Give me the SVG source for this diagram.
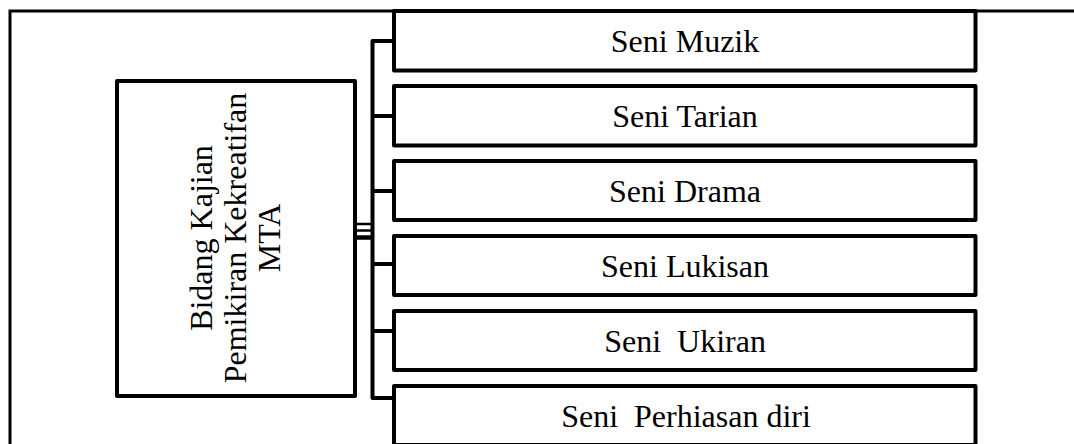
<svg xmlns="http://www.w3.org/2000/svg" width="1074" height="444" viewBox="0 0 1074 444">
<style>
.box{fill:#fff;stroke:#000;stroke-width:4;stroke-linejoin:round}
.frame{fill:none;stroke:#000;stroke-width:3}
.con{fill:none;stroke:#000;stroke-width:4;stroke-linejoin:round}
.t{font-family:"Liberation Serif","Times New Roman",serif;font-size:32px;fill:#000;text-anchor:middle}
</style>
<rect width="1074" height="444" fill="#fff"/>
<path class="frame" d="M10,447 V11 H1076"/>
<g id="center">
<rect class="box" x="117" y="81" width="238" height="315"/>
<g transform="translate(236,238) rotate(-90)">
<text class="t" x="0" y="-24">Bidang Kajian</text>
<text class="t" x="0" y="9.5">Pemikiran Kekreatifan</text>
<text class="t" x="0" y="43.5">MTA</text>
</g>
</g>
<g id="connectors">
<path class="con" d="M394,41 H372.5 V398 H394"/>
<path class="con" d="M372.5,116 H394 M372.5,191 H394 M372.5,264 H394 M372.5,331 H394"/>
<path fill="none" stroke="#000" stroke-width="2.5" d="M355,224 H372.5 M355,230.5 H372.5"/>
<path fill="none" stroke="#000" stroke-width="4.5" d="M355,237.5 H372.5"/>
</g>
<g id="n1"><rect class="box" x="394" y="11" width="581.5" height="59.5"/><text class="t" x="685" y="51.5">Seni Muzik</text></g>
<g id="n2"><rect class="box" x="394" y="86" width="581.5" height="59.5"/><text class="t" x="685" y="126.5">Seni Tarian</text></g>
<g id="n3"><rect class="box" x="394" y="161" width="581.5" height="59"/><text class="t" x="685" y="201.5">Seni Drama</text></g>
<g id="n4"><rect class="box" x="394" y="236" width="581.5" height="59"/><text class="t" x="685" y="276.5">Seni Lukisan</text></g>
<g id="n5"><rect class="box" x="394" y="311" width="581.5" height="59"/><text class="t" x="685" y="351.5" xml:space="preserve">Seni  Ukiran</text></g>
<g id="n6"><rect class="box" x="394" y="386" width="581.5" height="59"/><text class="t" x="686" y="426.5" xml:space="preserve">Seni  Perhiasan diri</text></g>
</svg>
